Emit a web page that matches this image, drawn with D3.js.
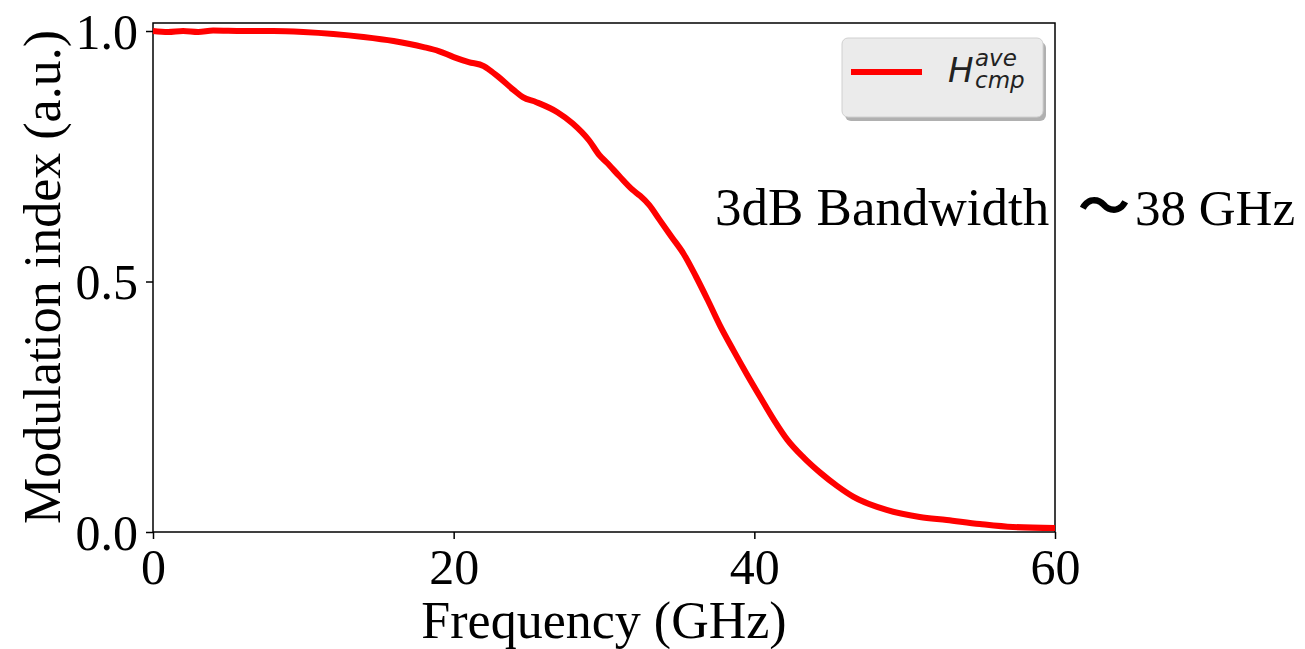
<!DOCTYPE html>
<html>
<head>
<meta charset="utf-8">
<script src="https://d3js.org/d3.v7.min.js"></script>
<style>
  body { margin: 0px; background: #fff; }
  .tick text { font-family: "Liberation Serif", serif; font-size: 50px; fill: #000; }
  .axis-label { font-family: "Liberation Serif", serif; font-size: 52px; fill: #000; }
  .note { font-family: "Liberation Serif", serif; font-size: 53px; fill: #000; }
</style>
</head>
<body>
<div id="my_dataviz"></div>
<script>
// frequency (GHz) and modulation index
const freq = [0, 1, 2, 3, 4, 6, 8, 10, 12, 14, 16, 18, 19, 20, 21, 22, 22.4, 23, 24, 24.6,
              25.5, 26.9, 27.9, 29, 29.7, 30.2, 31, 31.9, 32.4, 33, 33.7, 34.5, 35.3, 36.1,
              36.9, 37.7, 38.6, 39.5, 40.4, 41.3, 42.2, 43.3, 44.4, 45.5, 46.6, 48.8, 51,
              52.8, 55, 57.2, 60];
const modIndex = [1.000, 0.998, 1.000, 0.998, 1.001, 1.000, 1.000, 0.998, 0.994, 0.988, 0.980,
                  0.968, 0.960, 0.948, 0.938, 0.930, 0.922, 0.908, 0.882, 0.868,
                  0.858, 0.838, 0.816, 0.782, 0.752, 0.737, 0.711, 0.683, 0.671, 0.653, 0.623,
                  0.589, 0.555, 0.511, 0.463, 0.413, 0.363, 0.315, 0.269, 0.224, 0.184, 0.148,
                  0.118, 0.092, 0.070, 0.044, 0.030, 0.024, 0.016, 0.010, 0.008];
const xTicks = [0, 20, 40, 60];
const yTicks = [0.0, 0.5, 1.0];

const margin = { top: 23, left: 153 },
      width = 1305,
      height = 649,
      innerW = 1055 - margin.left,
      innerH = 532 - margin.top;

const svg = d3.select("#my_dataviz")
  .append("svg")
  .attr("width", width)
  .attr("height", height);

const g = svg.append("g")
  .attr("transform", `translate(${margin.left},${margin.top})`);

const x = d3.scaleLinear().domain([0, 60]).range([0, innerW]);
const y = d3.scaleLinear().domain([0, 1.016]).range([innerH, 0]);

// axes
const xAxis = g.append("g")
  .attr("transform", `translate(0,${innerH})`)
  .call(d3.axisBottom(x).tickValues(xTicks).tickSize(7).tickPadding(6).tickFormat(d3.format("d")));
const yAxis = g.append("g")
  .call(d3.axisLeft(y).tickValues(yTicks).tickSize(7).tickPadding(8).tickFormat(d3.format(".1f")));
[xAxis, yAxis].forEach(a => {
  a.select(".domain").remove();
  a.selectAll(".tick line").attr("stroke", "#000").attr("stroke-width", 1.5);
});
xAxis.selectAll(".tick text").attr("dy", "0.78em");
yAxis.selectAll(".tick text").attr("dy", "0.34em");

// frame
g.append("rect")
  .attr("x", 0).attr("y", 0)
  .attr("width", innerW).attr("height", innerH)
  .attr("fill", "none").attr("stroke", "#000").attr("stroke-width", 1.5);

// curve
const line = d3.line()
  .x((d, i) => x(freq[i]))
  .y(d => y(d))
  .curve(d3.curveMonotoneX);
g.append("path")
  .datum(modIndex)
  .attr("fill", "none")
  .attr("stroke", "#ff0000")
  .attr("stroke-width", 6)
  .attr("stroke-linejoin", "round")
  .attr("d", line);

// axis labels
svg.append("text")
  .attr("class", "axis-label")
  .attr("text-anchor", "middle")
  .attr("x", 604).attr("y", 638)
  .text("Frequency (GHz)");
svg.append("text")
  .attr("class", "axis-label")
  .attr("text-anchor", "middle")
  .attr("transform", "translate(60,277) rotate(-90)")
  .text("Modulation index (a.u.)");

// legend
const leg = svg.append("g").attr("transform", "translate(842,38)");
leg.append("rect")
  .attr("x", 3).attr("y", 4).attr("width", 201).attr("height", 79).attr("rx", 6)
  .attr("fill", "#b0b0b0");
leg.append("rect")
  .attr("x", 0).attr("y", 0).attr("width", 201).attr("height", 79).attr("rx", 6)
  .attr("fill", "#ebebeb").attr("stroke", "#d0d0d0").attr("stroke-width", 1);
leg.append("line")
  .attr("x1", 9).attr("x2", 80).attr("y1", 34).attr("y2", 34)
  .attr("stroke", "#ff0000").attr("stroke-width", 6);
const lt = leg.append("text")
  .style("font-family", "DejaVu Sans").style("font-style", "italic")
  .attr("fill", "#222");
lt.append("tspan").attr("x", 106).attr("y", 44).style("font-size", "34px").text("H");
lt.append("tspan").attr("x", 133).attr("y", 28).style("font-size", "23px").text("ave");
lt.append("tspan").attr("x", 133).attr("y", 50).style("font-size", "23px").text("cmp");

// annotation
svg.append("text")
  .attr("class", "note")
  .attr("x", 715).attr("y", 225)
  .text("3dB Bandwidth");
svg.append("text")
  .attr("x", 1078).attr("y", 225)
  .style("font-family", "Noto Sans CJK JP").style("font-size", "52px").style("font-weight", "bold")
  .text("\uFF5E");
svg.append("text")
  .attr("class", "note")
  .attr("x", 1135).attr("y", 225)
  .style("font-size", "51px")
  .text("38 GHz");
</script>
</body>
</html>
